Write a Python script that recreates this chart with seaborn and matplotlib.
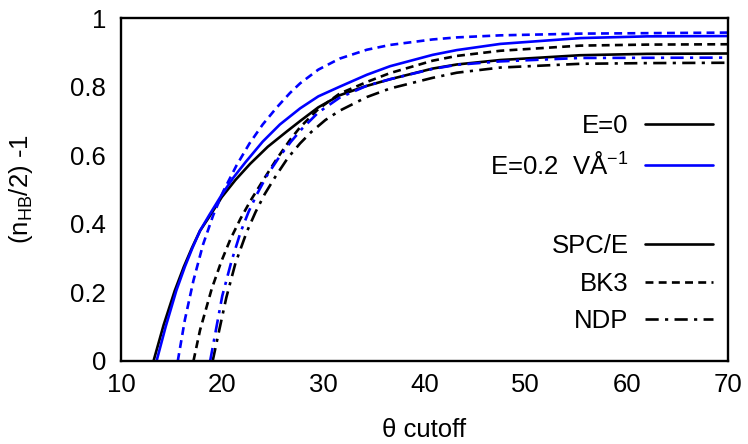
import numpy as np
import pandas as pd
import seaborn as sns
import matplotlib
matplotlib.use("Agg")
import matplotlib.pyplot as plt
from matplotlib.lines import Line2D

# ---- data ----
spce_e0_x = [13.2, 14.2, 15.3, 16.2, 17.0, 17.8, 18.7, 19.95, 21.3, 22.75, 24.5, 26.4, 27.7, 29.5, 31.6, 34.0, 36.6, 40.8, 43.2, 47.5, 55.4, 62.0, 70.0]
spce_e0_y = [0.0, 0.105, 0.205, 0.275, 0.33, 0.38, 0.42, 0.478, 0.528, 0.575, 0.625, 0.67, 0.70, 0.74, 0.775, 0.80, 0.822, 0.853, 0.865, 0.878, 0.892, 0.896, 0.897]

spce_e2_x = [13.5, 14.4, 15.45, 16.3, 17.05, 17.8, 18.7, 19.95, 21.1, 22.3, 24.0, 25.7, 27.7, 29.5, 31.6, 34.3, 36.6, 40.8, 43.2, 47.5, 55.4, 62.0, 70.0]
spce_e2_y = [0.0, 0.10, 0.205, 0.275, 0.33, 0.38, 0.425, 0.485, 0.535, 0.58, 0.64, 0.69, 0.737, 0.772, 0.80, 0.835, 0.86, 0.893, 0.907, 0.925, 0.942, 0.947, 0.948]

bk3_e0_x = [17.15, 17.8, 18.95, 19.9, 20.8, 21.8, 22.8, 24.1, 25.4, 26.7, 27.7, 29.5, 31.6, 34.3, 36.6, 40.8, 43.2, 47.5, 55.4, 62.0, 70.0]
bk3_e0_y = [0.0, 0.09, 0.21, 0.29, 0.355, 0.415, 0.468, 0.53, 0.59, 0.645, 0.682, 0.735, 0.78, 0.814, 0.84, 0.876, 0.89, 0.905, 0.92, 0.923, 0.924]

bk3_e2_x = [15.6, 16.3, 17.15, 18.1, 19.1, 20.1, 21.4, 22.7, 24.0, 25.4, 26.7, 27.7, 29.5, 31.6, 34.3, 36.6, 40.8, 43.2, 47.5, 55.4, 70.0]
bk3_e2_y = [0.0, 0.12, 0.235, 0.34, 0.425, 0.495, 0.57, 0.635, 0.69, 0.74, 0.782, 0.81, 0.85, 0.882, 0.908, 0.922, 0.938, 0.944, 0.95, 0.955, 0.958]

ndp_e0_x = [19.05, 19.7, 20.4, 21.3, 22.4, 23.3, 24.2, 25.3, 26.5, 27.7, 28.8, 30.2, 31.6, 34.3, 36.6, 40.8, 43.2, 47.5, 55.4, 62.0, 70.0]
ndp_e0_y = [0.0, 0.09, 0.185, 0.285, 0.375, 0.435, 0.487, 0.54, 0.593, 0.635, 0.668, 0.703, 0.73, 0.77, 0.795, 0.826, 0.841, 0.856, 0.867, 0.869, 0.870]

ndp_e2_x = [18.8, 19.4, 20.0, 20.9, 21.8, 22.6, 23.4, 24.4, 25.7, 26.8, 27.9, 29.5, 31.6, 34.3, 36.6, 40.8, 43.2, 47.5, 55.4, 70.0]
ndp_e2_y = [0.0, 0.095, 0.19, 0.29, 0.375, 0.435, 0.485, 0.54, 0.598, 0.64, 0.678, 0.725, 0.768, 0.803, 0.822, 0.852, 0.864, 0.874, 0.884, 0.885]

fields = ["E=0", "E=0.2  VÅ$^{-1}$"]
models = ["SPC/E", "BK3", "NDP"]
x_ticks = [10, 20, 30, 40, 50, 60, 70]
y_ticks = [0, 0.2, 0.4, 0.6, 0.8, 1]
y_tick_labels = ["0", "0.2", "0.4", "0.6", "0.8", "1"]

series = [
    (fields[0], models[0], spce_e0_x, spce_e0_y),
    (fields[1], models[0], spce_e2_x, spce_e2_y),
    (fields[0], models[1], bk3_e0_x, bk3_e0_y),
    (fields[1], models[1], bk3_e2_x, bk3_e2_y),
    (fields[0], models[2], ndp_e0_x, ndp_e0_y),
    (fields[1], models[2], ndp_e2_x, ndp_e2_y),
]
rows = []
for f, m, xs, ys in series:
    for xv, yv in zip(xs, ys):
        rows.append({"field": f, "model": m, "theta": xv, "val": yv})
df = pd.DataFrame(rows)

# ---- style ----
sns.set_theme(style="white")
plt.rcParams["font.family"] = ["Liberation Sans", "DejaVu Sans"]
plt.rcParams["mathtext.fontset"] = "custom"
plt.rcParams["mathtext.rm"] = "Liberation Sans"
plt.rcParams["mathtext.it"] = "Liberation Sans"
plt.rcParams["text.color"] = "black"
plt.rcParams["axes.labelcolor"] = "black"
FS = 18.5

palette = {fields[0]: "#000000", fields[1]: "#0000ff"}
lw = 1.9
dashes = {"SPC/E": "", "BK3": (3.0, 2.0), "NDP": (5.0, 2.4, 1.2, 2.4)}

fig = plt.figure(figsize=(7.48, 4.44), dpi=100)
ax = fig.add_axes([0.162, 0.187, 0.811, 0.772])

sns.lineplot(data=df, x="theta", y="val", hue="field", style="model",
             palette=palette, dashes=dashes, hue_order=fields, style_order=models,
             estimator=None, sort=False, linewidth=lw, legend=False, ax=ax)

ax.set_xlim(10, 70)
ax.set_ylim(0, 1)
ax.set_xticks(x_ticks)
ax.set_xticklabels([str(t) for t in x_ticks], fontsize=FS)
ax.set_yticks(y_ticks)
ax.set_yticklabels(y_tick_labels, fontsize=FS)
ax.tick_params(axis="x", direction="in", length=7, width=1.5, colors="black",
               top=False, pad=9)
ax.tick_params(axis="y", direction="in", length=7, width=1.5, colors="black",
               right=False, pad=11)
for s in ax.spines.values():
    s.set_visible(True)
    s.set_color("black")
    s.set_linewidth(1.7)
ax.set_xlabel("θ cutoff", fontsize=FS, color="black")
ax.set_ylabel("(n$_{\\mathrm{HB}}$/2) -1", fontsize=FS, color="black")
ax.xaxis.set_label_coords(0.5, -0.166)
ax.yaxis.set_label_coords(-0.142, 0.5)
ax.grid(False)

# legends (gnuplot style: text right-aligned, sample on the right)
h1 = [Line2D([], [], color=palette[f], lw=lw) for f in fields]
leg1 = ax.legend(h1, fields, loc="center right", bbox_to_anchor=(0.975, 0.626),
                 markerfirst=False, frameon=False, fontsize=FS, handlelength=2.65,
                 handletextpad=0.62, labelspacing=0.55, borderpad=0, borderaxespad=0)
ax.add_artist(leg1)
h2 = []
for m in models:
    if dashes[m]:
        h2.append(Line2D([], [], color="black", lw=lw, dashes=dashes[m]))
    else:
        h2.append(Line2D([], [], color="black", lw=lw))
leg2 = ax.legend(h2, models, loc="center right", bbox_to_anchor=(0.975, 0.225),
                 markerfirst=False, frameon=False, fontsize=FS, handlelength=2.65,
                 handletextpad=0.62, labelspacing=0.52, borderpad=0, borderaxespad=0)

fig.savefig("out.png", dpi=100)
